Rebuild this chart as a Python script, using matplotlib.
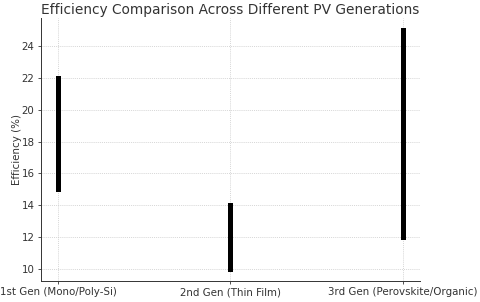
import matplotlib
matplotlib.use("Agg")
import matplotlib.pyplot as plt

generations = ["1st Gen (Mono/Poly-Si)", "2nd Gen (Thin Film)", "3rd Gen (Perovskite/Organic)"]
eff_low = [15, 10, 12]
eff_high = [22, 14, 25]

txt = "#333333"

fig, ax = plt.subplots(figsize=(4.8, 3.02), dpi=100)
fig.subplots_adjust(left=0.085, right=0.875, bottom=0.07, top=0.94)

for i in range(len(generations)):
    ax.plot([i, i], [eff_low[i], eff_high[i]], color="black", lw=3.6)

ax.set_xticks(range(len(generations)))
ax.set_xticklabels(generations)
ax.set_ylabel("Efficiency (%)", fontsize=7.4, color=txt, labelpad=0)
ax.set_title("Efficiency Comparison Across Different PV Generations", fontsize=9.9, color=txt, pad=3)
ax.tick_params(labelsize=7.4, colors=txt, length=2.5, width=0.6, pad=2)
ax.grid(True, linestyle=(0, (1.5, 1.5)), linewidth=0.5, color="#c8c8c8")
ax.spines["top"].set_visible(False)
ax.spines["right"].set_visible(False)
for s in ["left", "bottom"]:
    ax.spines[s].set_color(txt)
    ax.spines[s].set_linewidth(0.7)

fig.savefig("out.png", dpi=100)
